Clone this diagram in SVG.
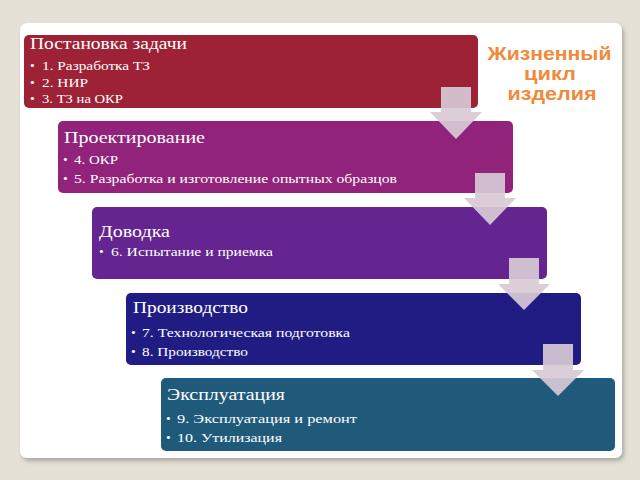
<svg xmlns="http://www.w3.org/2000/svg" width="640" height="480" viewBox="0 0 640 480">
<defs>
<style>
.t{font-family:"Liberation Serif","Times New Roman",serif;fill:#fff;font-size:17px}
.b{font-family:"Liberation Serif","Times New Roman",serif;fill:#fff;font-size:13.5px}
.arr{fill:#d8cad6;fill-opacity:0.92}
.h{font-family:"Liberation Sans",Arial,sans-serif;font-weight:bold;fill:#ef8a3c;font-size:18.5px;text-anchor:middle}
</style>
<filter id="sh" x="-5%" y="-5%" width="110%" height="110%">
<feDropShadow dx="2" dy="3" stdDeviation="2" flood-color="#000" flood-opacity="0.25"/>
</filter>
</defs>
<rect width="640" height="480" fill="#e5e1d7"/>
<rect x="20" y="23" width="602" height="435" rx="7" fill="#fff" filter="url(#sh)"/>
<text class="h" x="549.5" y="60" textLength="124" lengthAdjust="spacingAndGlyphs">Жизненный</text>
<text class="h" x="550" y="80" textLength="52" lengthAdjust="spacingAndGlyphs">цикл</text>
<text class="h" x="552" y="100" textLength="89" lengthAdjust="spacingAndGlyphs">изделия</text>
<g id="n1">
<rect x="24" y="35" width="454" height="73" rx="5" fill="#9e2236"/>
<text class="t" x="30" y="49" textLength="157" lengthAdjust="spacingAndGlyphs">Постановка задачи</text>
<text class="b" x="30" y="70">•</text><text class="b" x="42" y="70" textLength="108" lengthAdjust="spacingAndGlyphs">1. Разработка ТЗ</text>
<text class="b" x="30" y="87">•</text><text class="b" x="42" y="87" textLength="46" lengthAdjust="spacingAndGlyphs">2. НИР</text>
<text class="b" x="30" y="103">•</text><text class="b" x="42" y="103" textLength="81" lengthAdjust="spacingAndGlyphs">3. ТЗ на ОКР</text>
</g>
<g id="n2">
<rect x="58" y="121" width="455" height="72" rx="5" fill="#92237a"/>
<text class="t" x="64" y="143" textLength="141" lengthAdjust="spacingAndGlyphs">Проектирование</text>
<text class="b" x="63" y="164">•</text><text class="b" x="74" y="164" textLength="44" lengthAdjust="spacingAndGlyphs">4. ОКР</text>
<text class="b" x="63" y="183">•</text><text class="b" x="74" y="183" textLength="323" lengthAdjust="spacingAndGlyphs">5. Разработка и изготовление опытных образцов</text>
</g>
<g id="n3">
<rect x="92" y="207" width="455" height="72" rx="5" fill="#642590"/>
<text class="t" x="99" y="237" textLength="71" lengthAdjust="spacingAndGlyphs">Доводка</text>
<text class="b" x="99" y="256">•</text><text class="b" x="111" y="256" textLength="162" lengthAdjust="spacingAndGlyphs">6. Испытание и приемка</text>
</g>
<g id="n4">
<rect x="126" y="293" width="455" height="72" rx="5" fill="#211c84"/>
<text class="t" x="133" y="313" textLength="115" lengthAdjust="spacingAndGlyphs">Производство</text>
<text class="b" x="131" y="337">•</text><text class="b" x="142" y="337" textLength="208" lengthAdjust="spacingAndGlyphs">7. Технологическая подготовка</text>
<text class="b" x="131" y="356">•</text><text class="b" x="142" y="356" textLength="106" lengthAdjust="spacingAndGlyphs">8. Производство</text>
</g>
<g id="n5">
<rect x="161" y="378" width="454" height="73" rx="5" fill="#1f5a7b"/>
<text class="t" x="167" y="400" textLength="118" lengthAdjust="spacingAndGlyphs">Эксплуатация</text>
<text class="b" x="166" y="423">•</text><text class="b" x="177" y="423" textLength="180" lengthAdjust="spacingAndGlyphs">9. Эксплуатация и ремонт</text>
<text class="b" x="166" y="442">•</text><text class="b" x="177" y="442" textLength="105" lengthAdjust="spacingAndGlyphs">10. Утилизация</text>
</g>
<g id="connectors">
<path class="arr" d="M441 87H471V112H482L456 139L430 112H441Z"/>
<path class="arr" d="M475 173H505V198H516L490 225L464 198H475Z"/>
<path class="arr" d="M509 258H539V284H550L524 310L498 284H509Z"/>
<path class="arr" d="M543 344H573V370H584L558 396L532 370H543Z"/>
</g>
</svg>
